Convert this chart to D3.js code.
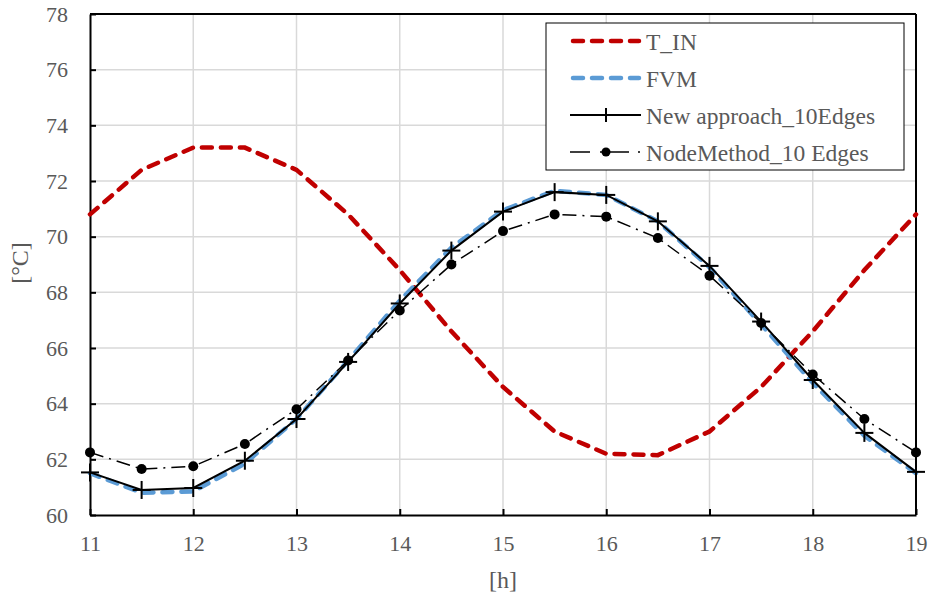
<!DOCTYPE html>
<html><head><meta charset="utf-8">
<script src="https://cdn.jsdelivr.net/npm/d3@7"></script>
<style>body{margin:0;background:#fff} text{font-family:"Liberation Serif",serif}</style>
</head><body>
<svg id="c" width="930" height="599"></svg>
<script>
const hours = [11,11.5,12,12.5,13,13.5,14,14.5,15,15.5,16,16.5,17,17.5,18,18.5,19];
const tIn   = [70.8,72.4,73.2,73.2,72.4,70.8,68.8,66.6,64.6,63.0,62.2,62.15,63.0,64.6,66.6,68.8,70.8];
const fvm   = [61.5,60.8,60.85,61.85,63.45,65.55,67.7,69.6,70.95,71.65,71.5,70.55,68.9,66.85,64.75,62.85,61.5];
const newApp= [61.53,60.9,60.97,61.95,63.45,65.5,67.6,69.5,70.9,71.6,71.5,70.55,68.95,66.95,64.85,62.95,61.55];
const nodeM = [62.25,61.65,61.75,62.55,63.8,65.55,67.35,69.0,70.2,70.8,70.72,69.95,68.6,66.9,65.05,63.45,62.25];
const xTicks = [11,12,13,14,15,16,17,18,19];
const yTicks = [60,62,64,66,68,70,72,74,76,78];
const seriesNames = ["T_IN","FVM","New approach_10Edges","NodeMethod_10 Edges"];

const svg = d3.select("#c");
const L=90, R=916, T=14, B=515;
const x = d3.scaleLinear().domain([11,19]).range([L,R]);
const y = d3.scaleLinear().domain([60,78]).range([B,T]);
const font = "Liberation Serif, serif";
const gray = "#595959";

// gridlines
svg.append("g").selectAll("line").data(yTicks.slice(1,-1)).join("line")
  .attr("x1",L).attr("x2",R).attr("y1",d=>y(d)).attr("y2",d=>y(d))
  .attr("stroke","#d9d9d9").attr("stroke-width",1.5);
svg.append("g").selectAll("line").data(xTicks.slice(1,-1)).join("line")
  .attr("y1",T).attr("y2",B).attr("x1",d=>x(d)).attr("x2",d=>x(d))
  .attr("stroke","#d9d9d9").attr("stroke-width",1.5);

// axes
const xAxis = d3.axisBottom(x).tickValues(xTicks).tickSizeInner(-6).tickSizeOuter(0).tickPadding(20);
const yAxis = d3.axisLeft(y).tickValues(yTicks).tickSizeInner(-6).tickSizeOuter(0).tickPadding(22);
const gx = svg.append("g").attr("transform",`translate(0,${B})`).call(xAxis);
const gy = svg.append("g").attr("transform",`translate(${L},0)`).call(yAxis);
[gx,gy].forEach(g=>{
  g.attr("font-family",font).attr("font-size",22);
  g.select(".domain").attr("stroke","#000").attr("stroke-width",2);
  g.selectAll(".tick line").attr("stroke","#000").attr("stroke-width",2);
  g.selectAll(".tick text").attr("fill",gray);
});
// top and right border
svg.append("line").attr("x1",L).attr("x2",R).attr("y1",T).attr("y2",T).attr("stroke","#000").attr("stroke-width",2);
svg.append("line").attr("x1",R).attr("x2",R).attr("y1",T).attr("y2",B).attr("stroke","#000").attr("stroke-width",2);

// axis titles
svg.append("text").attr("x",503).attr("y",588).attr("text-anchor","middle")
  .attr("font-family",font).attr("font-size",24).attr("fill",gray).text("[h]");
svg.append("text").attr("transform",`translate(28,263) rotate(-90)`).attr("text-anchor","middle")
  .attr("font-family",font).attr("font-size",24).attr("fill",gray).text("[°C]");

const line = d3.line().x(d=>x(d[0])).y(d=>y(d[1]));
const pts = arr => hours.map((h,i)=>[h,arr[i]]);

// T_IN
svg.append("path").datum(pts(tIn)).attr("d",line).attr("fill","none")
  .attr("stroke","#c00000").attr("stroke-width",4.5).attr("stroke-dasharray","10,9").attr("stroke-linecap","round");
// FVM
svg.append("path").datum(pts(fvm)).attr("d",line).attr("fill","none")
  .attr("stroke","#5b9bd5").attr("stroke-width",4.5).attr("stroke-dasharray","10,9").attr("stroke-linecap","round");
// New approach
svg.append("path").datum(pts(newApp)).attr("d",line).attr("fill","none")
  .attr("stroke","#000").attr("stroke-width",2);
const plus = (g, cx, cy) => {
  g.append("line").attr("x1",cx-9).attr("x2",cx+9).attr("y1",cy).attr("y2",cy).attr("stroke","#000").attr("stroke-width",2);
  g.append("line").attr("x1",cx).attr("x2",cx).attr("y1",cy-9).attr("y2",cy+9).attr("stroke","#000").attr("stroke-width",2);
};
const gp = svg.append("g");
pts(newApp).forEach(d=>plus(gp, x(d[0]), y(d[1])));
// NodeMethod
svg.append("path").datum(pts(nodeM)).attr("d",line).attr("fill","none")
  .attr("stroke","#000").attr("stroke-width",1.5).attr("stroke-dasharray","14,6,2,6");
svg.append("g").selectAll("circle").data(pts(nodeM)).join("circle")
  .attr("cx",d=>x(d[0])).attr("cy",d=>y(d[1])).attr("r",5).attr("fill","#000");

// legend
const lg = svg.append("g");
lg.append("rect").attr("x",546).attr("y",23).attr("width",358).attr("height",147)
  .attr("fill","#fff").attr("stroke","#000").attr("stroke-width",1);
const rowY = [41,78,115,152];
const lx1=573, lx2=639;
lg.append("line").attr("x1",lx1).attr("x2",lx2).attr("y1",rowY[0]).attr("y2",rowY[0])
  .attr("stroke","#c00000").attr("stroke-width",4.5).attr("stroke-dasharray","10,9").attr("stroke-linecap","round");
lg.append("line").attr("x1",lx1).attr("x2",lx2).attr("y1",rowY[1]).attr("y2",rowY[1])
  .attr("stroke","#5b9bd5").attr("stroke-width",4.5).attr("stroke-dasharray","10,9").attr("stroke-linecap","round");
lg.append("line").attr("x1",570).attr("x2",641).attr("y1",rowY[2]).attr("y2",rowY[2]).attr("stroke","#000").attr("stroke-width",2);
lg.append("line").attr("x1",606).attr("x2",606).attr("y1",rowY[2]-7).attr("y2",rowY[2]+7).attr("stroke","#000").attr("stroke-width",2);
lg.append("line").attr("x1",570).attr("x2",641).attr("y1",rowY[3]).attr("y2",rowY[3]).attr("stroke","#000").attr("stroke-width",1.5).attr("stroke-dasharray","20,10,29,9,2,20");
lg.append("circle").attr("cx",606).attr("cy",rowY[3]).attr("r",4.5).attr("fill","#000");
lg.selectAll("text.l").data(seriesNames).join("text").attr("class","l")
  .attr("x",646).attr("y",(d,i)=>rowY[i]+8.5).attr("font-family",font).attr("font-size",23.5).attr("fill",gray).text(d=>d);
</script>
</body></html>
